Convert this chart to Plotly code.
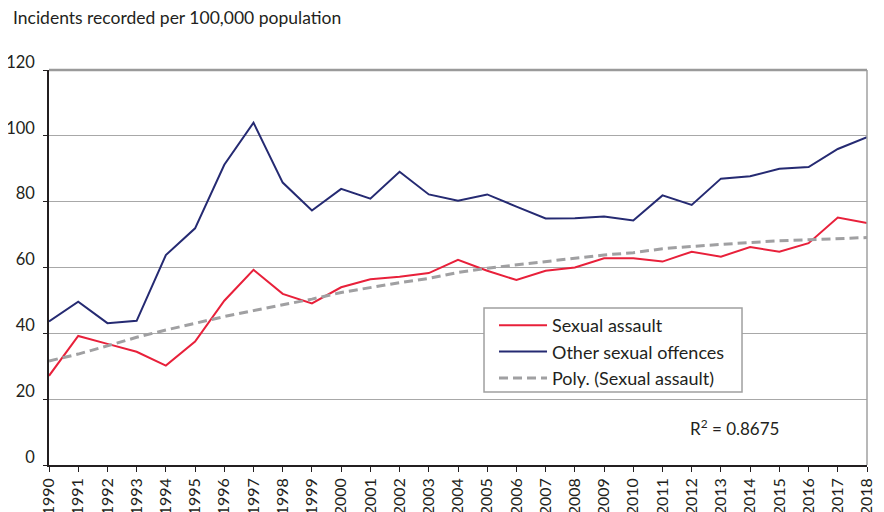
import plotly.graph_objects as go

years = list(range(1990, 2019))
sexual_assault = [27.1, 39.2, 36.8, 34.4, 30.2, 37.5, 49.9, 59.3, 52.0, 49.1,
                  54.0, 56.4, 57.2, 58.3, 62.3, 59.0, 56.2, 59.0, 60.0, 62.8,
                  62.8, 61.8, 64.8, 63.3, 66.2, 64.8, 67.4, 75.2, 73.5]
other_offences = [43.6, 49.6, 43.1, 43.8, 63.8, 71.9, 91.2, 104.0, 85.8, 77.3,
                  83.9, 80.9, 89.1, 82.2, 80.3, 82.2, 78.5, 74.9, 75.0, 75.5,
                  74.3, 81.9, 79.0, 87.0, 87.7, 90.0, 90.5, 96.0, 99.6]
poly_trend = [31.6, 33.7, 36.2, 38.8, 41.0, 43.1, 45.1, 46.9, 48.6, 50.4,
              52.4, 54.0, 55.4, 56.7, 58.5, 59.8, 60.8, 61.8, 62.8, 63.8,
              64.5, 65.7, 66.4, 67.1, 67.6, 68.1, 68.4, 68.8, 69.1]
y_ticks = [0, 20, 40, 60, 80, 100, 120]
title_text = "Incidents recorded per 100,000 population"
r2_text = "R<sup>2</sup> = 0.8675"

FONT = "Lato"
TXT = "#231f20"
fig = go.Figure()
fig.add_trace(go.Scatter(x=years, y=sexual_assault, mode="lines", name="Sexual assault",
                         line=dict(color="#e8203a", width=2)))
fig.add_trace(go.Scatter(x=years, y=other_offences, mode="lines", name="Other sexual offences",
                         line=dict(color="#252a72", width=2)))
fig.add_trace(go.Scatter(x=years, y=poly_trend, mode="lines", name="Poly. (Sexual assault)",
                         line=dict(color="#a0a0a2", width=3, dash="9px,5px")))

# page body has an 8px margin, so the figure is 876x504 drawn at (8, 8)
fig.update_layout(
    width=876, height=504,
    margin=dict(l=41, r=17, t=62, b=47),
    paper_bgcolor="white", plot_bgcolor="white",
    font=dict(family=FONT, size=17, color=TXT),
    showlegend=True,
    legend=dict(x=0.5318 + 10/818, y=0.3975 + 1/395, xanchor="left", yanchor="top",
                borderwidth=0, bgcolor="rgba(255,255,255,0)", itemwidth=48,
                font=dict(size=18, family=FONT, color=TXT), tracegroupgap=0),
    hovermode=False,
    xaxis=dict(range=[1990, 2018], tickmode="array", tickvals=years,
               ticktext=[str(y) for y in years], tickangle=-90,
               showgrid=False, zeroline=False, showline=True, linecolor=TXT,
               linewidth=1.5, ticks="outside", ticklen=5, tickcolor=TXT,
               tickfont=dict(size=16), automargin=False),
    yaxis=dict(range=[0, 120], tickmode="array", tickvals=y_ticks,
               showgrid=True, gridcolor="#a8a8a8", gridwidth=1, zeroline=False,
               showline=True, linecolor=TXT, linewidth=1.5,
               ticks="outside", ticklen=4, tickcolor=TXT,
               ticklabelshift=-8, ticklabelstandoff=5,
               tickfont=dict(size=16.5), automargin=False),
    shapes=[
        dict(type="line", xref="paper", yref="paper", x0=1, x1=1, y0=0, y1=1,
             line=dict(color="#a0a0a0", width=1.5)),
        dict(type="line", xref="paper", yref="paper", x0=0, x1=1, y0=1, y1=1,
             line=dict(color="#9a9a9a", width=2.5)),
        dict(type="rect", xref="paper", yref="paper", layer="above",
             x0=0.5318, x1=0.8472, y0=0.1848, y1=0.3975,
             fillcolor="white", line=dict(color="#a0a0a0", width=1.5)),
    ],
    annotations=[
        dict(text=title_text, xref="paper", yref="paper", x=-38/818, y=1 + 52/395,
             xanchor="left", yanchor="middle", showarrow=False,
             font=dict(size=17.5, family=FONT, color=TXT)),
        dict(text=r2_text, xref="paper", yref="paper", x=0.781, y=0.096,
             xanchor="left", yanchor="middle", showarrow=False,
             font=dict(size=17, family=FONT, color=TXT)),
    ],
)
fig.write_html("out.html")
